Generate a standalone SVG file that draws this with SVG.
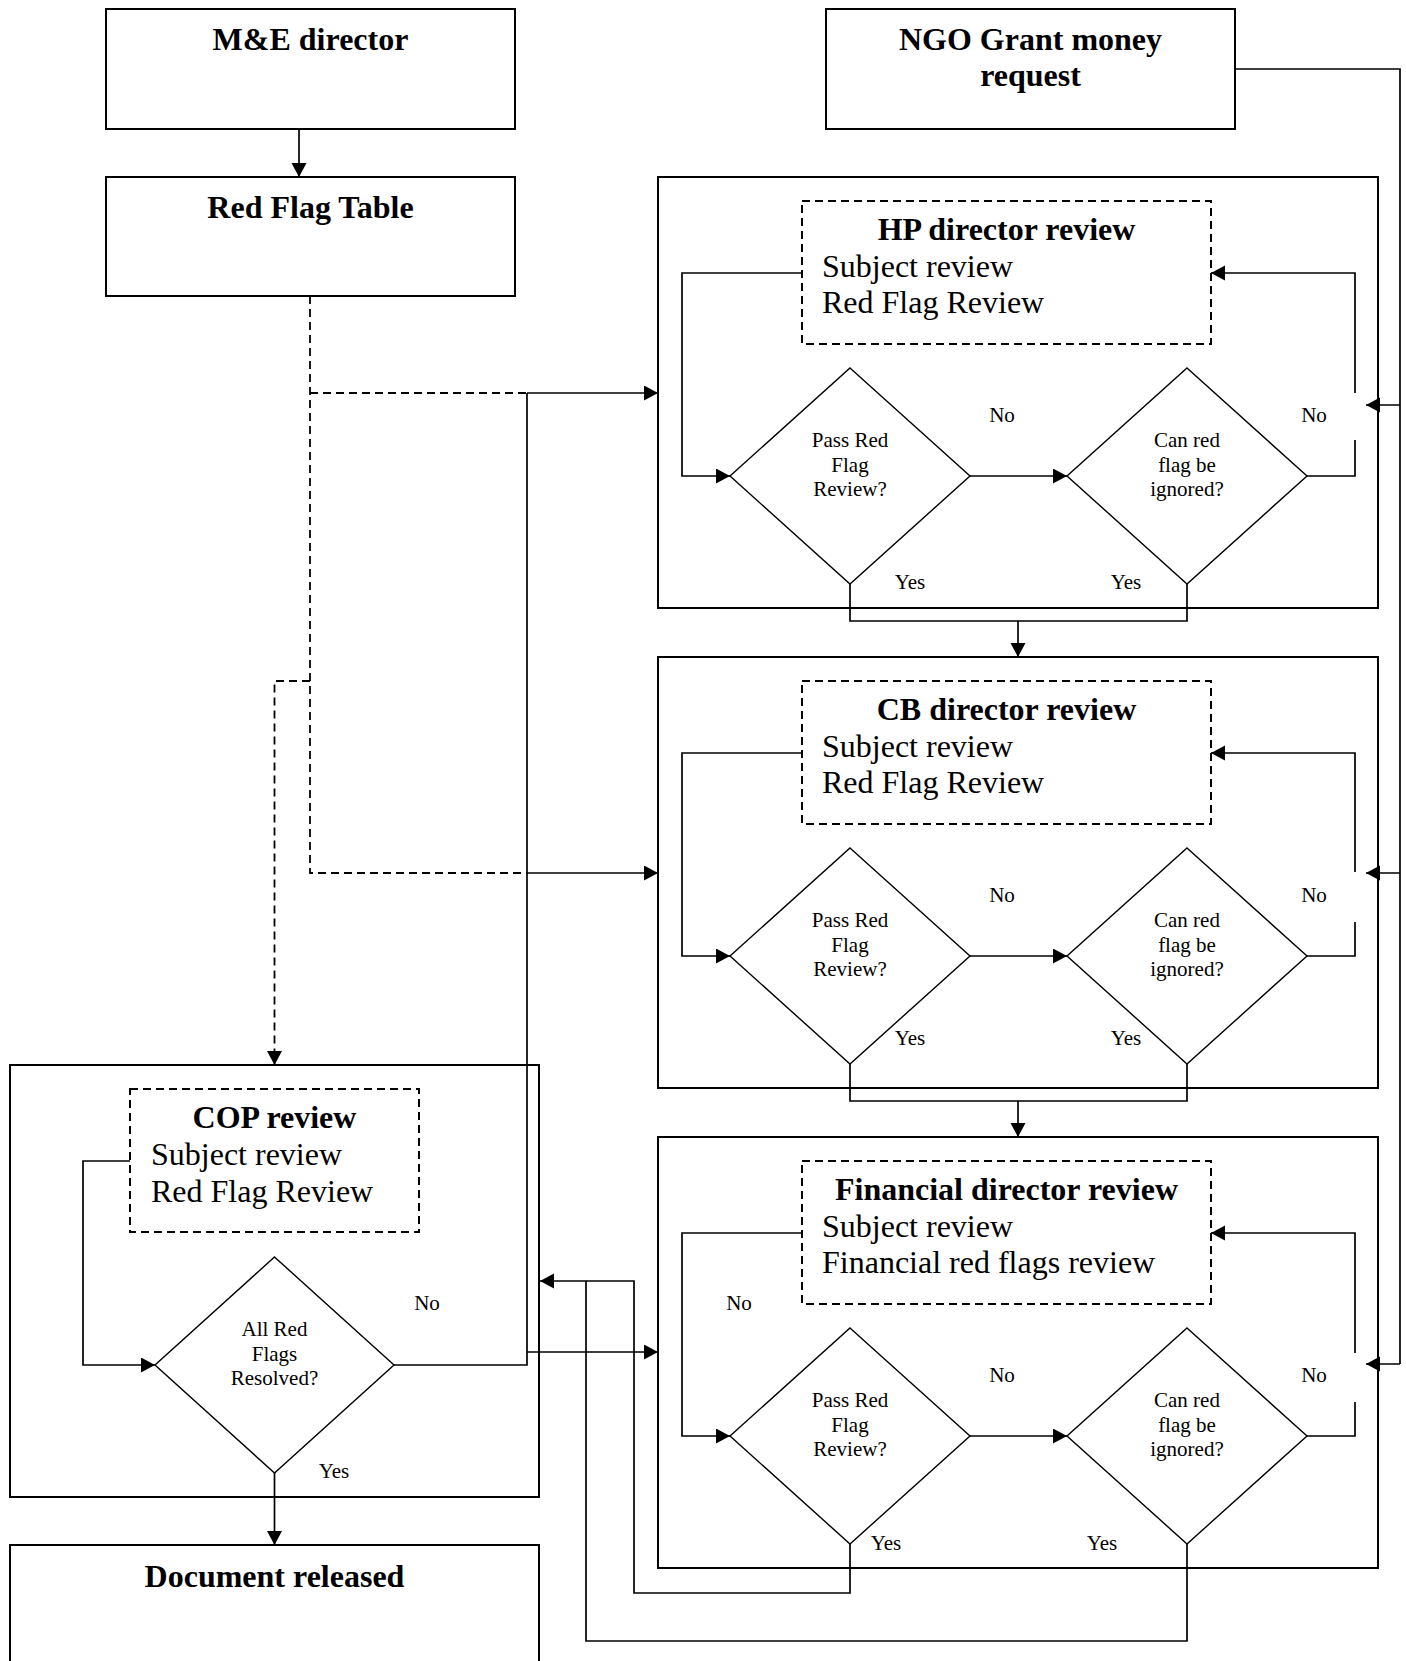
<svg xmlns="http://www.w3.org/2000/svg" width="1406" height="1661" viewBox="0 0 1406 1661">
<defs>
<style>
.box{fill:none;stroke:#000;stroke-width:2}
.dbox{fill:none;stroke:#000;stroke-width:2;stroke-dasharray:8,5}
.dia{fill:none;stroke:#000;stroke-width:1.4}
.ln{fill:none;stroke:#000;stroke-width:1.7}
.dln{fill:none;stroke:#000;stroke-width:1.8;stroke-dasharray:8,5}
.arr{marker-end:url(#ah)}
.title{font-family:"Liberation Serif","Times New Roman",serif;font-weight:bold;font-size:32px;text-anchor:middle;fill:#000}
.body{font-family:"Liberation Serif","Times New Roman",serif;font-size:32px;fill:#000}
.q{font-family:"Liberation Serif","Times New Roman",serif;font-size:21px;text-anchor:middle;fill:#000}
.lbl{font-family:"Liberation Serif","Times New Roman",serif;font-size:21px;text-anchor:middle;fill:#000}
</style>
<marker id="ah" markerUnits="userSpaceOnUse" markerWidth="16" markerHeight="16" refX="14" refY="7.5" orient="auto">
<path d="M0,0 L14,7.5 L0,15 z" fill="#000"/>
</marker>
</defs>
<rect width="1406" height="1661" fill="#fff"/>

<g id="me-director">
<rect class="box" x="106" y="9" width="409" height="120"/>
<text class="title" x="310.5" y="50">M&amp;E director</text>
</g>

<g id="red-flag-table">
<rect class="box" x="106" y="177" width="409" height="119"/>
<text class="title" x="310.5" y="218">Red Flag Table</text>
</g>

<g id="ngo-request">
<rect class="box" x="826" y="9" width="409" height="120"/>
<text class="title" x="1030.5" y="50">NGO Grant money</text>
<text class="title" x="1030.5" y="86">request</text>
</g>

<g id="hp-review">
<rect class="box" x="658" y="177" width="720" height="431"/>
<rect class="dbox" x="802" y="201" width="409" height="143"/>
<text class="title" x="1006.5" y="240">HP director review</text>
<text class="body" x="822" y="277">Subject review</text>
<text class="body" x="822" y="313">Red Flag Review</text>
</g>
<g id="hp-pass">
<polygon class="dia" points="850,368 970,476 850,584 730,476"/>
<text class="q" x="850" y="447">Pass Red</text>
<text class="q" x="850" y="472">Flag</text>
<text class="q" x="850" y="496">Review?</text>
</g>
<g id="hp-ignore">
<polygon class="dia" points="1187,368 1307,476 1187,584 1067,476"/>
<text class="q" x="1187" y="447">Can red</text>
<text class="q" x="1187" y="472">flag be</text>
<text class="q" x="1187" y="496">ignored?</text>
</g>

<g id="cb-review">
<rect class="box" x="658" y="657" width="720" height="431"/>
<rect class="dbox" x="802" y="681" width="409" height="143"/>
<text class="title" x="1006.5" y="720">CB director review</text>
<text class="body" x="822" y="757">Subject review</text>
<text class="body" x="822" y="793">Red Flag Review</text>
</g>
<g id="cb-pass">
<polygon class="dia" points="850,848 970,956 850,1064 730,956"/>
<text class="q" x="850" y="927">Pass Red</text>
<text class="q" x="850" y="952">Flag</text>
<text class="q" x="850" y="976">Review?</text>
</g>
<g id="cb-ignore">
<polygon class="dia" points="1187,848 1307,956 1187,1064 1067,956"/>
<text class="q" x="1187" y="927">Can red</text>
<text class="q" x="1187" y="952">flag be</text>
<text class="q" x="1187" y="976">ignored?</text>
</g>

<g id="fin-review">
<rect class="box" x="658" y="1137" width="720" height="431"/>
<rect class="dbox" x="802" y="1161" width="409" height="143"/>
<text class="title" x="1006.5" y="1200">Financial director review</text>
<text class="body" x="822" y="1237">Subject review</text>
<text class="body" x="822" y="1273">Financial red flags review</text>
</g>
<g id="fin-pass">
<polygon class="dia" points="850,1328 970,1436 850,1544 730,1436"/>
<text class="q" x="850" y="1407">Pass Red</text>
<text class="q" x="850" y="1432">Flag</text>
<text class="q" x="850" y="1456">Review?</text>
</g>
<g id="fin-ignore">
<polygon class="dia" points="1187,1328 1307,1436 1187,1544 1067,1436"/>
<text class="q" x="1187" y="1407">Can red</text>
<text class="q" x="1187" y="1432">flag be</text>
<text class="q" x="1187" y="1456">ignored?</text>
</g>

<g id="cop-review">
<rect class="box" x="10" y="1065" width="529" height="432"/>
<rect class="dbox" x="130" y="1089" width="289" height="143"/>
<text class="title" x="274.5" y="1128">COP review</text>
<text class="body" x="151" y="1165">Subject review</text>
<text class="body" x="151" y="1202">Red Flag Review</text>
</g>
<g id="cop-resolved">
<polygon class="dia" points="274.5,1257 394,1365 274.5,1473 155,1365"/>
<text class="q" x="274.5" y="1336">All Red</text>
<text class="q" x="274.5" y="1361">Flags</text>
<text class="q" x="274.5" y="1385">Resolved?</text>
</g>

<g id="document-released">
<rect class="box" x="10" y="1545" width="529" height="130"/>
<text class="title" x="274.5" y="1587">Document released</text>
</g>

<g id="connectors">
<path class="ln arr" d="M299,129 V177"/>
<path class="dln" d="M310,296 V873 H527"/>
<path class="dln" d="M310,393 H527"/>
<path class="dln arr" d="M310,681 H274.5 V1065"/>
<path class="ln arr" d="M527,393 H658"/>
<path class="ln arr" d="M527,873 H658"/>
<path class="ln" d="M527,393 V1365 H394"/>
<path class="ln arr" d="M527,1352 H658"/>
<path class="ln" d="M1235,69 H1400 V1364"/>
<path class="ln arr" d="M1400,405 H1366"/>
<path class="ln arr" d="M1400,873 H1366"/>
<path class="ln arr" d="M1400,1364 H1366"/>
<path class="ln arr" d="M802,273 H682 V476 H730"/>
<path class="ln arr" d="M970,476 H1067"/>
<path class="ln" d="M1307,476 H1355 V440"/>
<path class="ln arr" d="M1355,393 V273 H1211"/>
<path class="ln" d="M850,584 V621 H1187 V584"/>
<path class="ln arr" d="M1018,621 V657"/>
<path class="ln arr" d="M802,753 H682 V956 H730"/>
<path class="ln arr" d="M970,956 H1067"/>
<path class="ln" d="M1307,956 H1355 V922"/>
<path class="ln arr" d="M1355,872 V753 H1211"/>
<path class="ln" d="M850,1064 V1101 H1187 V1064"/>
<path class="ln arr" d="M1018,1101 V1137"/>
<path class="ln arr" d="M802,1233 H682 V1436 H730"/>
<path class="ln arr" d="M970,1436 H1067"/>
<path class="ln" d="M1307,1436 H1355 V1402"/>
<path class="ln arr" d="M1355,1353 V1233 H1211"/>
<path class="ln arr" d="M850,1544 V1593 H634 V1281 H540"/>
<path class="ln" d="M1187,1544 V1641 H586 V1281"/>
<path class="ln arr" d="M130,1161 H83 V1365 H155"/>
<path class="ln arr" d="M274.5,1473 V1545"/>
</g>

<g id="labels">
<text class="lbl" x="1002" y="422">No</text>
<text class="lbl" x="1314" y="422">No</text>
<text class="lbl" x="910" y="589">Yes</text>
<text class="lbl" x="1126" y="589">Yes</text>
<text class="lbl" x="1002" y="902">No</text>
<text class="lbl" x="1314" y="902">No</text>
<text class="lbl" x="910" y="1045">Yes</text>
<text class="lbl" x="1126" y="1045">Yes</text>
<text class="lbl" x="739" y="1310">No</text>
<text class="lbl" x="1002" y="1382">No</text>
<text class="lbl" x="1314" y="1382">No</text>
<text class="lbl" x="886" y="1550">Yes</text>
<text class="lbl" x="1102" y="1550">Yes</text>
<text class="lbl" x="427" y="1310">No</text>
<text class="lbl" x="334" y="1478">Yes</text>
</g>
</svg>
